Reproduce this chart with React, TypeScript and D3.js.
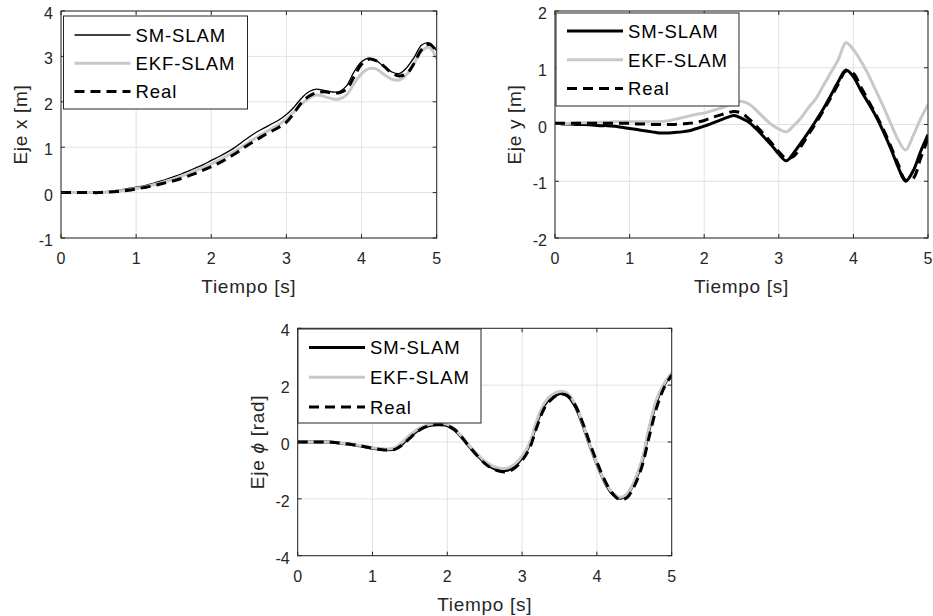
import React from 'react';
import * as d3 from 'd3';

// ---------- data ----------
const TIME = [
  0, 0.1, 0.2, 0.3, 0.4, 0.5, 0.6, 0.7, 0.8, 0.9, 1.0,
  1.1, 1.2, 1.3, 1.4, 1.5, 1.6, 1.7, 1.8, 1.9, 2.0,
  2.1, 2.2, 2.3, 2.4, 2.5, 2.6, 2.7, 2.8, 2.9, 3.0,
  3.1, 3.2, 3.3, 3.4, 3.5, 3.6, 3.7, 3.8, 3.9, 4.0,
  4.1, 4.2, 4.3, 4.4, 4.5, 4.6, 4.7, 4.8, 4.9, 5.0,
];

// Eje x [m]
const X_SM = [
  0, 0, 0, 0, 0, 0.01, 0.02, 0.04, 0.06, 0.09, 0.12,
  0.15, 0.19, 0.24, 0.29, 0.35, 0.41, 0.48, 0.55, 0.62, 0.71,
  0.79, 0.88, 0.98, 1.1, 1.22, 1.33, 1.42, 1.51, 1.6, 1.72,
  1.88, 2.08, 2.22, 2.28, 2.25, 2.22, 2.22, 2.35, 2.66, 2.88,
  2.96, 2.9, 2.77, 2.66, 2.62, 2.75, 2.98, 3.25, 3.3, 3.12,
];
const X_EKF = [
  0, 0, 0, 0, 0, 0, 0.01, 0.02, 0.04, 0.06, 0.09,
  0.12, 0.16, 0.2, 0.25, 0.3, 0.36, 0.42, 0.49, 0.56, 0.63,
  0.71, 0.8, 0.9, 1.0, 1.11, 1.21, 1.31, 1.4, 1.5, 1.62,
  1.78, 1.95, 2.08, 2.15, 2.12, 2.07, 2.06, 2.15, 2.4, 2.62,
  2.73, 2.72, 2.6, 2.5, 2.48, 2.6, 2.85, 3.12, 3.2, 2.94,
];
const X_REAL = [
  0, 0, 0, 0, 0, 0, 0.01, 0.02, 0.03, 0.05, 0.08,
  0.11, 0.14, 0.18, 0.22, 0.26, 0.31, 0.37, 0.43, 0.5, 0.57,
  0.65, 0.74, 0.84, 0.95, 1.06, 1.16, 1.26, 1.35, 1.44, 1.55,
  1.75, 1.98, 2.12, 2.2, 2.22, 2.2, 2.2, 2.28, 2.55, 2.83,
  2.94, 2.9, 2.78, 2.64, 2.57, 2.62, 2.85, 3.15, 3.27, 3.12,
];

// Eje y [m]
const Y_SM = [
  0.02, 0.01, 0.01, 0, 0, -0.01, -0.02, -0.02, -0.03, -0.05, -0.07,
  -0.09, -0.11, -0.13, -0.15, -0.15, -0.14, -0.13, -0.11, -0.07, -0.03,
  0.02, 0.07, 0.12, 0.16, 0.11, 0.04, -0.08, -0.22, -0.36, -0.52,
  -0.64, -0.5, -0.32, -0.13, 0.07, 0.28, 0.52, 0.76, 0.96, 0.84,
  0.6, 0.38, 0.15, -0.12, -0.42, -0.75, -1.0, -0.82, -0.48, -0.18,
];
const Y_EKF = [
  0.02, 0.02, 0.02, 0.03, 0.03, 0.03, 0.04, 0.04, 0.05, 0.05, 0.05,
  0.05, 0.05, 0.05, 0.05, 0.06, 0.09, 0.12, 0.15, 0.18, 0.2,
  0.24, 0.28, 0.33, 0.38, 0.41, 0.36, 0.25, 0.12, 0.0, -0.08,
  -0.13, -0.02, 0.12, 0.3, 0.46, 0.69, 0.92, 1.15, 1.44, 1.32,
  1.12, 0.88, 0.6, 0.32, 0.02, -0.27, -0.45, -0.2, 0.1, 0.35,
];
const Y_REAL = [
  0.02, 0.02, 0.02, 0.02, 0.02, 0.02, 0.02, 0.02, 0.02, 0.02, 0.02,
  0.01, 0.01, 0.0, 0.0, 0.0, 0.0, 0.01, 0.02, 0.04, 0.07,
  0.12, 0.16, 0.2, 0.23, 0.2, 0.1, -0.03, -0.17, -0.32, -0.48,
  -0.6, -0.56, -0.38, -0.17, 0.03, 0.25, 0.48, 0.72, 0.94, 0.9,
  0.66, 0.42, 0.18, -0.08, -0.38, -0.7, -0.98, -0.95, -0.6, -0.25,
];

// Eje phi [rad]
const P_SM = [
  0, 0, 0, 0, 0, -0.02, -0.05, -0.08, -0.12, -0.17, -0.22,
  -0.25, -0.27, -0.24, -0.06, 0.18, 0.4, 0.53, 0.6, 0.62, 0.58,
  0.42, 0.14, -0.18, -0.46, -0.72, -0.9, -1.0, -1.0, -0.85, -0.55,
  -0.1, 0.7, 1.3, 1.58, 1.7, 1.64, 1.3, 0.68, -0.08, -0.78,
  -1.38, -1.8, -1.98, -1.86, -1.42, -0.72, 0.45, 1.45, 2.02, 2.4,
];
const P_EKF = [
  0, 0, 0, 0, 0, -0.02, -0.04, -0.07, -0.11, -0.15, -0.2,
  -0.23, -0.25, -0.2, 0.0, 0.24, 0.45, 0.57, 0.64, 0.66, 0.62,
  0.46, 0.17, -0.14, -0.42, -0.67, -0.84, -0.92, -0.92, -0.78, -0.5,
  -0.05, 0.78, 1.38, 1.66, 1.78, 1.72, 1.38, 0.72, -0.06, -0.76,
  -1.36, -1.76, -1.94, -1.84, -1.38, -0.66, 0.52, 1.52, 2.06, 2.42,
];
const P_REAL = [
  0, 0, 0, 0, 0, -0.02, -0.05, -0.08, -0.12, -0.17, -0.22,
  -0.26, -0.28, -0.26, -0.1, 0.14, 0.37, 0.52, 0.59, 0.61, 0.57,
  0.43, 0.15, -0.18, -0.48, -0.75, -0.93, -1.03, -1.05, -0.92, -0.65,
  -0.22, 0.55, 1.2, 1.52, 1.68, 1.64, 1.34, 0.75, 0.0, -0.7,
  -1.32, -1.78, -2.02, -1.96, -1.55, -0.88, 0.2, 1.22, 1.92, 2.35,
];

const X_TICKS = [0, 1, 2, 3, 4, 5];
const YX_TICKS = [-1, 0, 1, 2, 3, 4];
const YY_TICKS = [-2, -1, 0, 1, 2];
const YP_TICKS = [-4, -2, 0, 2, 4];
const LEGEND_LABELS = ['SM-SLAM', 'EKF-SLAM', 'Real'];
const X_LABEL = 'Tiempo [s]';

// ---------- style ----------
const FONT = '"Liberation Sans", Arial, Helvetica, sans-serif';
const AX = '#262626';
const GRID = '#e2e2e2';
const EKF_COLOR = '#c8c8c8';
const TICK_LEN = 4;

type PanelProps = {
  id: string;
  left: number; right: number; top: number; bottom: number;
  yDomain: [number, number];
  yTicks: number[];
  sm: number[]; ekf: number[]; real: number[];
  smWidth: number;
  ylabel: React.ReactNode;
  legend: { dx: number; dy: number; w: number; h: number; first: number; step: number };
};

function Panel(p: PanelProps) {
  const x = d3.scaleLinear().domain([0, 5]).range([p.left, p.right]);
  const y = d3.scaleLinear().domain(p.yDomain).range([p.bottom, p.top]);
  const gen = d3
    .line<number>()
    .x((_, i) => x(TIME[i]))
    .y((d) => y(d))
    .curve(d3.curveCatmullRom.alpha(0.5));
  const lx = p.left + p.legend.dx;
  const ly = p.top + p.legend.dy;
  const styles = [
    { stroke: '#000', width: p.smWidth, dash: undefined as string | undefined },
    { stroke: EKF_COLOR, width: 3, dash: undefined },
    { stroke: '#000', width: 3, dash: '10,6' },
  ];
  const midY = (p.top + p.bottom) / 2;
  return (
    <g>
      <defs>
        <clipPath id={p.id}>
          <rect x={p.left} y={p.top} width={p.right - p.left} height={p.bottom - p.top} />
        </clipPath>
      </defs>
      <rect x={p.left} y={p.top} width={p.right - p.left} height={p.bottom - p.top} fill="#fff" />
      {X_TICKS.map((t) => (
        <line key={'gx' + t} x1={x(t)} x2={x(t)} y1={p.top} y2={p.bottom} stroke={GRID} strokeWidth={1} />
      ))}
      {p.yTicks.map((t) => (
        <line key={'gy' + t} x1={p.left} x2={p.right} y1={y(t)} y2={y(t)} stroke={GRID} strokeWidth={1} />
      ))}
      <g clipPath={`url(#${p.id})`} fill="none" strokeLinejoin="round">
        <path d={gen(p.sm) || ''} stroke="#000" strokeWidth={p.smWidth} />
        <path d={gen(p.ekf) || ''} stroke={EKF_COLOR} strokeWidth={3} />
        <path d={gen(p.real) || ''} stroke="#000" strokeWidth={3} strokeDasharray="10,6" />
      </g>
      <rect x={p.left} y={p.top} width={p.right - p.left} height={p.bottom - p.top} fill="none" stroke={AX} strokeWidth={1} />
      {X_TICKS.map((t) => (
        <g key={'tx' + t}>
          <line x1={x(t)} x2={x(t)} y1={p.bottom} y2={p.bottom - TICK_LEN} stroke={AX} />
          <line x1={x(t)} x2={x(t)} y1={p.top} y2={p.top + TICK_LEN} stroke={AX} />
          <text x={x(t)} y={p.bottom + 26} textAnchor="middle" fontSize={16} fill={AX} fontFamily={FONT}>
            {t}
          </text>
        </g>
      ))}
      {p.yTicks.map((t) => (
        <g key={'ty' + t}>
          <line x1={p.left} x2={p.left + TICK_LEN} y1={y(t)} y2={y(t)} stroke={AX} />
          <line x1={p.right} x2={p.right - TICK_LEN} y1={y(t)} y2={y(t)} stroke={AX} />
          <text x={p.left - 8} y={y(t) + 8} textAnchor="end" fontSize={16} fill={AX} fontFamily={FONT}>
            {t}
          </text>
        </g>
      ))}
      <text
        x={(p.left + p.right) / 2}
        y={p.bottom + 55}
        textAnchor="middle"
        fontSize={19}
        letterSpacing={0.7}
        fill={AX}
        fontFamily={FONT}
      >
        {X_LABEL}
      </text>
      <text
        transform={`translate(${p.left - 34},${midY}) rotate(-90)`}
        textAnchor="middle"
        fontSize={19}
        letterSpacing={0.7}
        fill={AX}
        fontFamily={FONT}
      >
        {p.ylabel}
      </text>
      <rect x={lx} y={ly} width={p.legend.w} height={p.legend.h} fill="#fff" stroke={AX} strokeWidth={1} />
      {LEGEND_LABELS.map((lab, i) => {
        const yy = ly + p.legend.first + i * p.legend.step;
        const s = styles[i];
        return (
          <g key={lab}>
            <line x1={lx + 11} x2={lx + 67} y1={yy} y2={yy} stroke={s.stroke} strokeWidth={s.width} strokeDasharray={s.dash} />
            <text x={lx + 72} y={yy + 6.7} fontSize={18.5} letterSpacing={0.9} fill="#000" fontFamily={FONT}>
              {lab}
            </text>
          </g>
        );
      })}
    </g>
  );
}

export default function App() {
  return (
    <svg
      width={933}
      height={616}
      viewBox="0 0 933 616"
      style={{ position: 'absolute', left: 0, top: 0, display: 'block', background: '#fff' }}
    >
      <rect width={933} height={616} fill="#fff" />
      <Panel
        id="c1"
        left={61}
        right={436.7}
        top={11}
        bottom={238}
        yDomain={[-1, 4]}
        yTicks={YX_TICKS}
        sm={X_SM}
        ekf={X_EKF}
        real={X_REAL}
        smWidth={1.3}
        ylabel="Eje x [m]"
        legend={{ dx: 2.5, dy: 5, w: 184, h: 93, first: 19, step: 28.2 }}
      />
      <Panel
        id="c2"
        left={555}
        right={928}
        top={11}
        bottom={238}
        yDomain={[-2, 2]}
        yTicks={YY_TICKS}
        sm={Y_SM}
        ekf={Y_EKF}
        real={Y_REAL}
        smWidth={3}
        ylabel="Eje y [m]"
        legend={{ dx: 1, dy: 2, w: 183, h: 93, first: 18, step: 28.8 }}
      />
      <Panel
        id="c3"
        left={297.7}
        right={671.7}
        top={328.3}
        bottom={555.7}
        yDomain={[-4, 4]}
        yTicks={YP_TICKS}
        sm={P_SM}
        ekf={P_EKF}
        real={P_REAL}
        smWidth={3}
        ylabel={
          <>
            {'Eje '}
            <tspan fontStyle="italic">ϕ</tspan>
            {' [rad]'}
          </>
        }
        legend={{ dx: 0.3, dy: 0.7, w: 183, h: 94, first: 18.5, step: 29.8 }}
      />
    </svg>
  );
}
